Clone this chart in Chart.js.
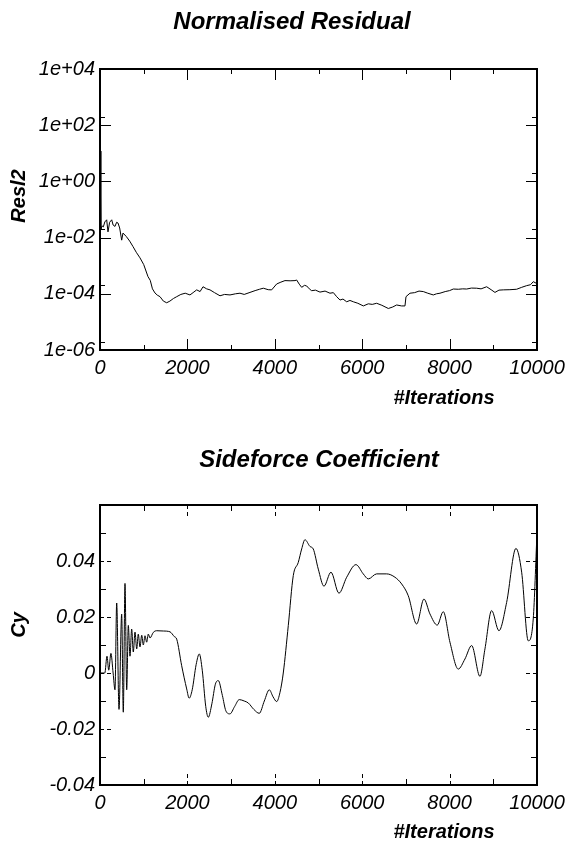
<!DOCTYPE html>
<html>
<head>
<meta charset="utf-8">
<script src="https://cdn.jsdelivr.net/npm/chart.js@4.4.1/dist/chart.umd.min.js"></script>
<style>
  body { margin: 0; background: #fff; }
  .box { position: absolute; left: 0; width: 567px; }
</style>
</head>
<body>
<div class="box" style="top:0;height:422px"><canvas id="resChart" width="567" height="422"></canvas></div>
<div class="box" style="top:422px;height:423px"><canvas id="cyChart" width="567" height="423"></canvas></div>
<script>
"use strict";

// residual history (iteration, Resl2)
const resIter = [0, 20, 50, 76, 110, 153, 183, 220, 268, 300, 343, 380, 412, 450, 496, 526, 600, 680, 755, 830,
   915, 1000, 1098, 1150, 1200, 1258, 1310, 1373, 1450, 1526, 1600, 1680, 1755, 1850, 1950, 2059, 2130, 2213, 2290, 2357,
   2440, 2517, 2620, 2746, 2850, 2975, 3100, 3203, 3300, 3432, 3550, 3650, 3737, 3850, 3928, 4043, 4140, 4233, 4350, 4462,
   4500, 4560, 4615, 4680, 4729, 4790, 4843, 4930, 5034, 5150, 5263, 5340, 5416, 5492, 5560, 5645, 5720, 5797, 5900, 6026,
   6140, 6230, 6331, 6450, 6598, 6700, 6788, 6900, 6979, 7002, 7093, 7200, 7300, 7398, 7500, 7627, 7700, 7780, 7900, 8000,
   8085, 8200, 8300, 8390, 8500, 8619, 8720, 8848, 8950, 9038, 9130, 9229, 9380, 9534, 9650, 9763, 9850, 9915, 10000];
const resVals = [12, 2.0e-2, 2.6e-2, 2.4e-2, 3.6e-2, 4.3e-2, 1.6e-2, 3.5e-2, 4.3e-2, 2.8e-2, 2.5e-2, 3.5e-2, 3.3e-2, 2.2e-2, 8.1e-3, 1.45e-2, 1.1e-2, 7.5e-3, 4.8e-3, 3.0e-3,
   1.9e-3, 1.1e-3, 4.1e-4, 3.0e-4, 1.5e-4, 1.07e-4, 9.0e-5, 7.9e-5, 5.5e-5, 4.8e-5, 5.5e-5, 6.8e-5, 7.9e-5, 9.5e-5, 1.05e-4, 9.1e-5, 1.1e-4, 1.38e-4, 1.2e-4, 1.78e-4,
   1.5e-4, 1.38e-4, 1.1e-4, 8.5e-5, 9.5e-5, 9.1e-5, 1.0e-4, 1.05e-4, 9.5e-5, 1.12e-4, 1.3e-4, 1.45e-4, 1.58e-4, 1.4e-4, 1.38e-4, 2.24e-4, 2.6e-4, 2.95e-4, 2.9e-4, 2.95e-4,
   3.1e-4, 2.2e-4, 1.7e-4, 2.0e-4, 1.9e-4, 1.5e-4, 1.29e-4, 1.35e-4, 1.15e-4, 1.25e-4, 1.05e-4, 1.1e-4, 7.9e-5, 6.0e-5, 6.5e-5, 5.2e-5, 5.8e-5, 5.2e-5, 4.6e-5, 3.7e-5,
   4.4e-5, 4.2e-5, 4.6e-5, 3.9e-5, 3.0e-5, 3.4e-5, 4.0e-5, 3.7e-5, 3.7e-5, 7.9e-5, 1.05e-4, 1.1e-4, 1.25e-4, 1.2e-4, 1.05e-4, 9.1e-5, 1.0e-4, 1.05e-4, 1.2e-4, 1.3e-4,
   1.48e-4, 1.45e-4, 1.5e-4, 1.48e-4, 1.6e-4, 1.58e-4, 1.5e-4, 1.78e-4, 1.4e-4, 1.12e-4, 1.35e-4, 1.38e-4, 1.4e-4, 1.45e-4, 1.7e-4, 1.95e-4, 2.1e-4, 2.7e-4, 2.3e-4];

// sideforce coefficient history (iteration, Cy)
const cyIter = [0, 110, 160, 200, 250, 300, 343, 382, 435, 496, 533, 572, 611, 648, 686, 725, 762, 801, 840, 876,
   915, 955, 991, 1030, 1068, 1105, 1144, 1220, 1297, 1450, 1602, 1700, 1755, 1869, 1984, 2040, 2110, 2200, 2272, 2340,
   2420, 2478, 2560, 2640, 2707, 2800, 2880, 2974, 3080, 3187, 3300, 3393, 3520, 3645, 3760, 3874, 3960, 4043, 4119, 4194,
   4309, 4423, 4537, 4615, 4690, 4805, 4880, 4995, 5125, 5285, 5468, 5645, 5857, 6024, 6139, 6331, 6560, 6750, 6903, 7054,
   7246, 7413, 7550, 7717, 7855, 8008, 8198, 8351, 8505, 8694, 8809, 8962, 9129, 9305, 9518, 9649, 9800, 9914, 10000];
const cyVals = [0, 0, 0.006, 0.001, 0.007, 0.0, -0.006, 0.025, -0.013, 0.021, -0.014, 0.032, -0.006, 0.017, 0.006, 0.0157, 0.0075, 0.0146, 0.0086, 0.0139,
   0.0093, 0.0135, 0.0100, 0.0133, 0.0110, 0.0139, 0.0125, 0.0145, 0.0151, 0.0150, 0.0147, 0.0130, 0.0121, 0.0026, -0.0057, -0.0090, -0.0060, 0.0030, 0.0068, 0.0010,
   -0.0120, -0.0158, -0.0110, -0.0040, -0.0027, -0.0080, -0.0135, -0.0146, -0.0120, -0.0095, -0.0100, -0.0107, -0.0130, -0.0144, -0.0100, -0.0060, -0.0085, -0.0102, -0.0069, 0.0,
   0.017, 0.0348, 0.0395, 0.0443, 0.0476, 0.0452, 0.0443, 0.0371, 0.0310, 0.0360, 0.0285, 0.0342, 0.0387, 0.0354, 0.0336, 0.0354, 0.0354, 0.0342, 0.0318, 0.0276,
   0.0175, 0.0264, 0.0211, 0.0171, 0.0219, 0.0110, 0.0014, 0.0050, 0.0098, -0.0012, 0.0086, 0.0223, 0.0151, 0.0252, 0.0445, 0.0360, 0.0115, 0.0193, 0.0500];

// tick values
const iterTicks = [0, 2000, 4000, 6000, 8000, 10000];
const iterMinor = [1000, 3000, 5000, 7000, 9000];
const resTicks = [1e-6, 1e-4, 1e-2, 1e0, 1e2, 1e4];
const resMinor = [2e-6, 2e-4, 2e-2, 2e0, 2e2];
const cyTicks = [-0.04, -0.02, 0, 0.02, 0.04];
const cyMinor = [-0.03, -0.01, 0.01, 0.03, 0.05];

const tickFont = { family: "'Liberation Sans', Arial, sans-serif", size: 20, style: "italic" };

function fmtExp(v) {
   const e = Math.round(Math.log10(v));
   return "1e" + (e < 0 ? "-" : "+") + String(Math.abs(e)).padStart(2, "0");
}
function fmtCy(v) {
   const r = Math.round(v * 100) / 100;
   return r === 0 ? "0" : r.toFixed(2);
}

// frame, inside tick marks and titles
const framePlugin = {
   id: "frame",
   afterDraw(chart, args, o) {
      const { ctx, chartArea: a, scales } = chart;
      const x = scales.x, y = scales.y;
      ctx.save();
      ctx.strokeStyle = "#000";
      ctx.lineWidth = 1;
      const line = (x1, y1, x2, y2, dashed) => {
         ctx.setLineDash(dashed ? [4, 3] : []);
         ctx.beginPath();
         ctx.moveTo(x1, y1);
         ctx.lineTo(x2, y2);
         ctx.stroke();
      };
      const xs = (vals, len, dashed) => vals.forEach(v => {
         const p = Math.round(x.getPixelForValue(v)) + 0.5;
         line(p, a.bottom, p, a.bottom - len, dashed);
         line(p, a.top, p, a.top + len, dashed);
      });
      const ys = (vals, len, dashed) => vals.forEach(v => {
         const p = Math.round(y.getPixelForValue(v)) + 0.5;
         line(a.left, p, a.left + len, p, dashed);
         line(a.right, p, a.right - len, p, dashed);
      });
      xs(o.xMajor, o.major, o.dashed);
      xs(o.xMinor, o.minor, false);
      ys(o.yMajor, o.major, o.dashed);
      ys(o.yMinor, o.minor, false);
      ctx.setLineDash([]);
      ctx.lineWidth = 2;
      ctx.strokeRect(a.left, a.top, a.right - a.left, a.bottom - a.top);

      ctx.fillStyle = "#000";
      ctx.textAlign = "center";
      ctx.textBaseline = "middle";
      ctx.font = "italic bold 24px 'Liberation Sans', Arial, sans-serif";
      ctx.fillText(o.title, o.titleX, o.titleY);
      ctx.font = "italic bold 20px 'Liberation Sans', Arial, sans-serif";
      ctx.fillText("#Iterations", 444, o.xTitleY);
      ctx.translate(19, o.yTitleY);
      ctx.rotate(-Math.PI / 2);
      ctx.fillText(o.yTitle, 0, 0);
      ctx.restore();
   }
};

function makeChart(id, cfg) {
   const ctx = document.getElementById(id).getContext("2d");
   return new Chart(ctx, {
      type: "line",
      data: {
         datasets: [{
            data: cfg.xs.map((v, i) => ({ x: v, y: cfg.ys[i] })),
            borderColor: "#000",
            borderWidth: 1,
            pointRadius: 0,
            fill: false,
            cubicInterpolationMode: cfg.smooth ? "monotone" : "default",
            tension: 0,
         }],
      },
      options: {
         responsive: false,
         animation: false,
         layout: { padding: { top: cfg.top, right: 30, bottom: 0, left: 0 } },
         plugins: {
            legend: { display: false },
            tooltip: { enabled: false },
            frame: cfg.frame,
         },
         scales: {
            x: {
               type: "linear",
               min: 0,
               max: 10000,
               grid: { display: false, drawTicks: false },
               border: { display: false },
               afterBuildTicks: s => { s.ticks = iterTicks.map(v => ({ value: v })); },
               afterFit: s => { s.height = cfg.xHeight; s.paddingLeft = 0; s.paddingRight = 0; },
               ticks: { font: tickFont, color: "#000", padding: 6, maxRotation: 0, autoSkip: false, callback: v => String(v) },
            },
            y: {
               type: cfg.yType,
               min: cfg.yMin,
               max: cfg.yMax,
               grid: { display: false, drawTicks: false },
               border: { display: false },
               afterBuildTicks: s => { s.ticks = cfg.yTicks.map(v => ({ value: v })); },
               afterFit: s => { s.width = 100; },
               ticks: { font: tickFont, color: "#000", padding: 5, autoSkip: false, callback: cfg.fmt },
            },
         },
      },
      plugins: [framePlugin],
   });
}

const resChart = makeChart("resChart", {
   xs: resIter, ys: resVals, smooth: false, top: 69, xHeight: 72,
   yType: "logarithmic", yMin: 1e-6, yMax: 1e4, yTicks: resTicks, fmt: fmtExp,
   frame: {
      xMajor: iterTicks, xMinor: iterMinor, yMajor: resTicks, yMinor: resMinor, major: 11, minor: 5, dashed: false,
      title: "Normalised Residual", titleX: 292, titleY: 22, yTitle: "Resl2", yTitleY: 196, xTitleY: 398,
   },
});

const cyChart = makeChart("cyChart", {
   xs: cyIter, ys: cyVals, smooth: true, top: 83, xHeight: 60,
   yType: "linear", yMin: -0.04, yMax: 0.06, yTicks: cyTicks, fmt: fmtCy,
   frame: {
      xMajor: iterTicks, xMinor: iterMinor, yMajor: cyTicks, yMinor: cyMinor, major: 12, minor: 6, dashed: true,
      title: "Sideforce Coefficient", titleX: 319, titleY: 38, yTitle: "Cy", yTitleY: 203, xTitleY: 410,
   },
});
</script>
</body>
</html>
